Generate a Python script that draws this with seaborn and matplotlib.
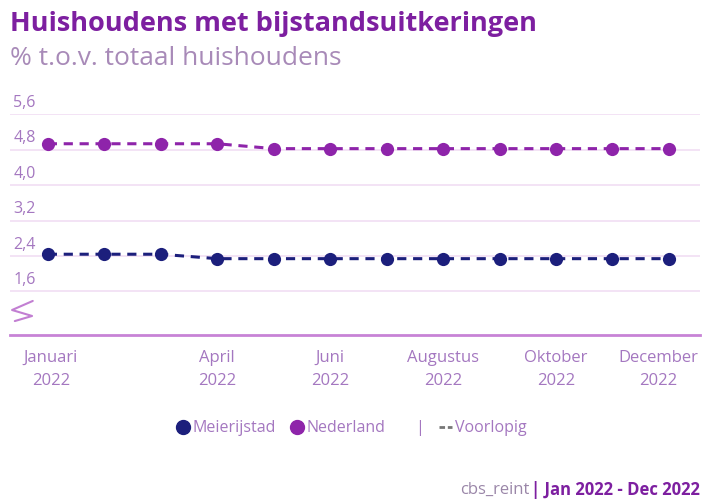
import pandas as pd
import seaborn as sns
import matplotlib.pyplot as plt
import matplotlib.transforms as mtransforms
from matplotlib.lines import Line2D

maanden = ['Jan', 'Feb', 'Mrt', 'Apr', 'Mei', 'Jun', 'Jul', 'Aug', 'Sep', 'Okt', 'Nov', 'Dec']
meierijstad = [2.44, 2.44, 2.44, 2.34, 2.34, 2.34, 2.34, 2.34, 2.34, 2.34, 2.34, 2.34]
nederland = [4.93, 4.93, 4.93, 4.93, 4.82, 4.82, 4.82, 4.82, 4.82, 4.82, 4.82, 4.82]

xtick_pos = [0, 3, 5, 7, 9, 11]
xtick_labels = ['Januari\n2022', 'April\n2022', 'Juni\n2022', 'Augustus\n2022', 'Oktober\n2022', 'December\n2022']
yticks = [1.6, 2.4, 3.2, 4.0, 4.8, 5.6]

NAVY = '#1c1f7c'
PURPLE = '#8e24aa'
LABEL = '#a477c0'
GRID = '#f2e0f4'

df = pd.DataFrame({
    'maand': list(range(12)) * 2,
    'waarde': meierijstad + nederland,
    'regio': ['Meierijstad'] * 12 + ['Nederland'] * 12,
})

sns.set_theme(style='white')
plt.rcParams['font.family'] = ['Open Sans', 'DejaVu Sans']

fig = plt.figure(figsize=(7.03, 4.99), dpi=100)
ax = fig.add_axes([0.0142, 0.3287, 0.9815, 0.4428])

sns.lineplot(data=df, x='maand', y='waarde', hue='regio',
             palette={'Meierijstad': NAVY, 'Nederland': PURPLE},
             marker='o', markersize=9.5, markeredgewidth=0,
             linewidth=2.2, linestyle=(0, (3, 2.2)), legend=False, ax=ax)

ax.set_xlim(-0.67, 11.55)
ax.set_ylim(0.62, 5.6)
ax.set_yticks(yticks)
ax.set_yticklabels([])
ax.grid(axis='y', color=GRID, linewidth=1.3)
ax.set_axisbelow(True)
for v in yticks:
    ax.text(0.005, v + 0.07, f'{v:.1f}'.replace('.', ','), transform=ax.get_yaxis_transform(),
            ha='left', va='bottom', fontsize=11.5, color=LABEL)

ax.set_xticks(xtick_pos)
ax.set_xticklabels(xtick_labels, fontsize=12, color=LABEL, linespacing=1.55)
ax.tick_params(axis='both', length=0)
ax.tick_params(axis='x', pad=11)
# last label pulled in so it stays inside the figure
last = ax.get_xticklabels()[-1]
last.set_transform(last.get_transform() + mtransforms.ScaledTranslation(-0.11, 0, fig.dpi_scale_trans))
first = ax.get_xticklabels()[0]
first.set_transform(first.get_transform() + mtransforms.ScaledTranslation(0.03, 0, fig.dpi_scale_trans))
ax.set_xlabel('')
ax.set_ylabel('')
for s in ['top', 'left', 'right']:
    ax.spines[s].set_visible(False)
ax.spines['bottom'].set_color('#c783d6')
ax.spines['bottom'].set_linewidth(2)

# broken-axis mark
zig = Line2D([0.033, 0.003, 0.032, 0.007], [0.154, 0.113, 0.086, 0.063],
             transform=ax.transAxes, color='#c27fd2', linewidth=1.5, clip_on=False)
ax.add_line(zig)

fig.text(0.014, 0.952, 'Huishoudens met bijstandsuitkeringen', fontsize=19.5, fontweight='bold',
         color='#7d1fa0', va='center')
fig.text(0.014, 0.883, '% t.o.v. totaal huishoudens', fontsize=19, color='#a88ab8', va='center')

handles = [
    Line2D([], [], marker='o', color=NAVY, linestyle='none', markersize=10),
    Line2D([], [], marker='o', color=PURPLE, linestyle='none', markersize=10),
    Line2D([], [], color='none'),
    Line2D([], [], color='#777777', linestyle=(0, (2, 1)), linewidth=2),
]
leg = fig.legend(handles, ['Meierijstad', 'Nederland', '|', 'Voorlopig'], loc='center',
                 bbox_to_anchor=(0.5, 0.142), ncol=4, frameon=False, fontsize=11.5,
                 handlelength=0.8, handletextpad=0.2, columnspacing=0.9)
for t in leg.get_texts():
    t.set_color(LABEL)

bold = fig.text(0.996, 0.019, '| Jan 2022 - Dec 2022', fontsize=12, fontweight='bold',
                color='#7d1fa0', ha='right', va='center')
fig.canvas.draw()
bb = bold.get_window_extent()
fig.text(bb.x0 / fig.bbox.width - 0.003, 0.019, 'cbs_reint', fontsize=12, color='#9a86a8',
         ha='right', va='center')

fig.savefig('out.png', dpi=100)
